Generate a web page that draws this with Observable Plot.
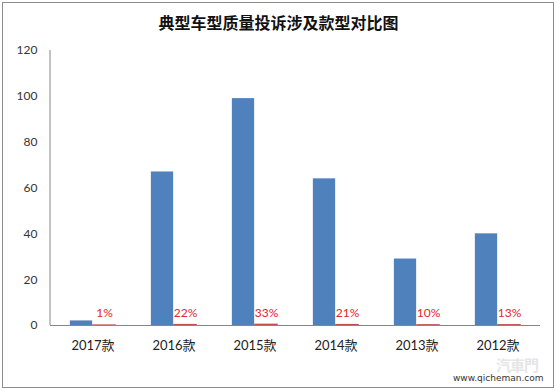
<!DOCTYPE html>
<html><head><meta charset="utf-8">
<script src="https://cdn.jsdelivr.net/npm/d3@7"></script>
<script src="https://cdn.jsdelivr.net/npm/@observablehq/plot@0.6"></script>
<style>
body{margin:0;background:#fff;}
#wrap{position:relative;width:557px;height:391px;overflow:hidden;}
#border{position:absolute;left:2px;top:2px;width:550px;height:384px;border:1px solid #8c8c8c;}
#title{position:absolute;left:0;top:11px;width:557px;text-align:center;font-family:"Noto Sans CJK SC",sans-serif;font-weight:bold;font-size:16px;line-height:22px;color:#111;}
#chart{position:absolute;left:0;top:0;}
#logo{position:absolute;left:496px;top:354px;font-family:"Noto Sans CJK TC",sans-serif;font-weight:bold;font-size:15px;color:#e6e6e6;letter-spacing:-1px;}
#wm{position:absolute;left:453px;top:373px;font-family:"DejaVu Sans",sans-serif;font-size:9px;color:#333;}
</style></head>
<body>
<div id="wrap">
<div id="border"></div>
<div id="logo">汽車門</div>
<div id="chart"></div>
<div id="title">典型车型质量投诉涉及款型对比图</div>
<div id="wm">www.qicheman.com</div>
</div>
<script>
const categories = ["2017款","2016款","2015款","2014款","2013款","2012款"];
const counts = [2,67,99,64,29,40];
const shares = [1,22,33,21,10,13];
const yTicks = [0,20,40,60,80,100,120];

const data = categories.map((c,i)=>({cat:c,count:counts[i],share:shares[i]/100,label:shares[i]+"%"}));

const plot = Plot.plot({
  width:557,height:391,
  marginLeft:50,marginRight:17,marginTop:50,marginBottom:66,
  style:{fontFamily:"Lato, 'Noto Sans CJK SC', sans-serif",fontSize:"12px",color:"#333",background:"transparent"},
  x:{domain:categories,padding:0,label:null},
  y:{domain:[0,120],ticks:yTicks,label:null},
  marks:[
    Plot.axisY({ticks:yTicks,tickSize:0,tickPadding:13,fontSize:12}),
    Plot.axisX({tickSize:0,tickPadding:15,fontSize:13,fill:"#222"}),
    Plot.barY(data,{x:"cat",y:"count",fill:"#4F81BD",insetLeft:17.85,insetRight:40.85}),
    Plot.barY(data,{x:"cat",y:"share",fill:"#C0504D",stroke:"#C0504D",strokeWidth:1.2,insetLeft:40.85,insetRight:17.85}),
    Plot.ruleY([0],{stroke:"#868686"}),
    Plot.text(data,{x:"cat",y:"share",text:"label",dx:11.5,dy:-12,fill:"#e0262e",fontSize:12})
  ]
});
document.getElementById("chart").appendChild(plot);
const xs = plot.scale("x"), ys = plot.scale("y");
d3.select(plot).append("line")
  .attr("x1",xs.range[0]).attr("x2",xs.range[0])
  .attr("y1",ys.apply(0)).attr("y2",ys.apply(120))
  .attr("stroke","#868686");
</script>
</body></html>
